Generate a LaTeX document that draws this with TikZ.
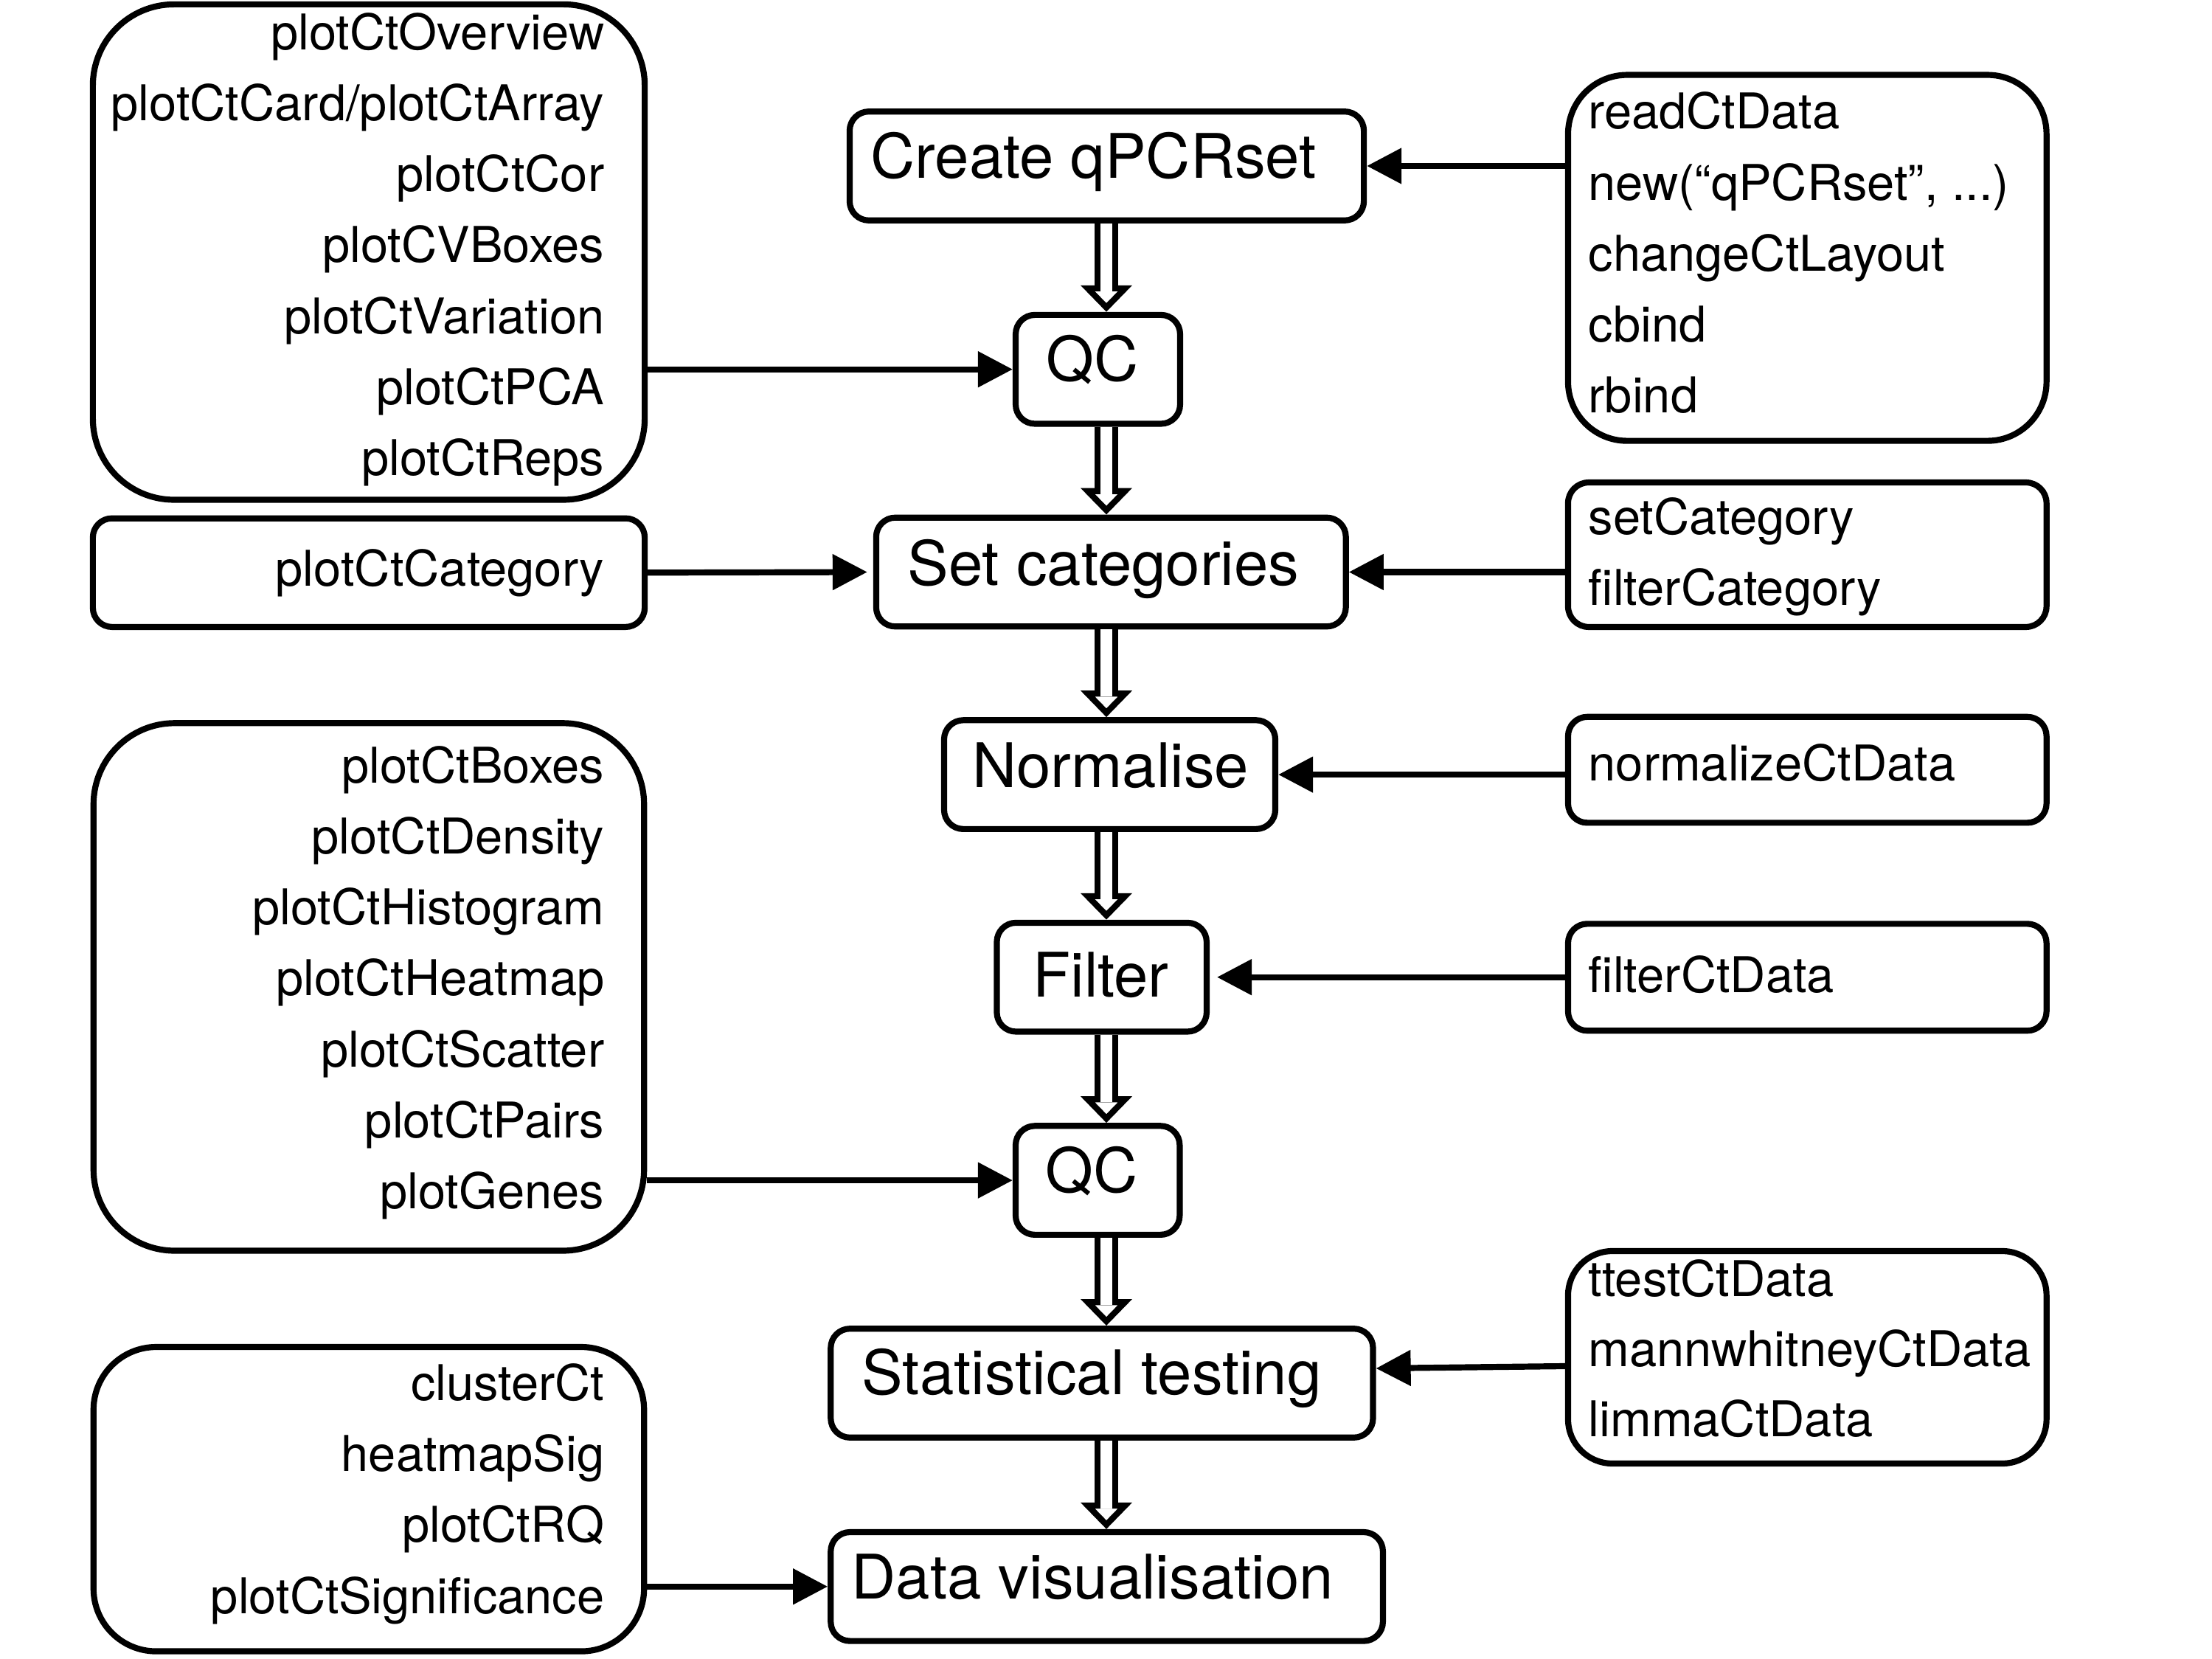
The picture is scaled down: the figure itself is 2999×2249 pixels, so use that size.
\documentclass[tikz,border=0pt]{standalone}
\usepackage{fontspec}
\setmainfont{TeX Gyre Heros}
\usetikzlibrary{arrows.meta, positioning, calc}
\newcommand{\qdots}{...}

\begin{document}
\begin{tikzpicture}[x=0.01cm, y=-0.01cm, line join=round]

	%======================
	% STYLES
	%======================
	\tikzset{
		stepbox/.style={draw, line width=2.33pt, rounded corners=0.26cm, minimum height=1.475cm, inner sep=0pt},
		listbox/.style={draw, line width=2.33pt, rounded corners=0.26cm, inner sep=0pt},
		steptext/.style={inner sep=0pt, anchor=base west, font=\fontsize{23.7}{28}\selectfont},
		listtext/.style={inner sep=0pt, font=\fontsize{19}{23}\selectfont},
		feed/.style={line width=2.33pt, -{Triangle[length=0.47cm, width=0.47cm]}},
		flow/.style={double, line width=2.33pt, double distance=0.162cm, shorten >=0.278cm},
		flowhead/.style={line width=2.33pt, -{Triangle[fill=white, length=0.36cm, width=0.68cm]}}
	}
	
	\useasboundingbox (0,0) rectangle (2999,2249);
	\coordinate (axis) at (1500,0);
	
	%======================
	% WORKFLOW STEPS
	%======================
	\node[stepbox, minimum width=6.968cm] (create) at (1500.5,225) {};
	\node[steptext] (createtxt) at (1180,242) {Create qPCRset};
	
	\node[stepbox, minimum width=2.228cm] (qcA) at (1488.5,500.7) {};
	\node[steptext] (qcAtxt) at (1418,517) {QC};
	
	\node[stepbox, minimum width=6.364cm] (setcat) at (1506.3,775.5) {};
	\node[steptext] (setcattxt) at (1230,793.7) {Set categories};
	
	\node[stepbox, minimum width=4.488cm] (norm) at (1504.5,1050.1) {};
	\node[steptext] (normtxt) at (1317.5,1067.4) {Normalise};
	
	\node[stepbox, minimum width=2.843cm] (filt) at (1493.7,1324.7) {};
	\node[steptext] (filttxt) at (1400,1351) {Filter};
	
	\node[stepbox, minimum width=2.223cm] (qcB) at (1488.2,1600.1) {};
	\node[steptext] (qcBtxt) at (1417,1616) {QC};
	
	\node[stepbox, minimum width=7.348cm] (stat) at (1493.9,1875) {};
	\node[steptext] (stattxt) at (1168,1890) {Statistical testing};
	
	\node[stepbox, minimum width=7.482cm] (datavis) at (1500.6,2150.8) {};
	\node[steptext] (datavistxt) at (1154,2167.4) {Data visualisation};
	
	%======================
	% PLOT FUNCTIONS (left)
	%======================
	\node[listbox, rounded corners=1.1cm, minimum width=7.478cm, minimum height=6.712cm] (plotsA) at (500,341.7) {};
	\foreach \t [count=\i from 0] in {plotCtOverview, {plotCtCard/plotCtArray}, plotCtCor, plotCVBoxes, plotCtVariation, plotCtPCA, plotCtReps}
		\node[listtext, anchor=base east] (plotsA\i) at (820,{67.7+96.1*\i}) {\t};
	
	\node[listbox, minimum width=7.478cm, minimum height=1.472cm] (plotsCat) at (500,776.3) {};
	\node[listtext, anchor=base east] (plotsCat0) at (820,795) {plotCtCategory};
	
	\node[listbox, rounded corners=1.1cm, minimum width=7.46cm, minimum height=7.148cm] (plotsB) at (500,1337.9) {};
	\foreach \t [count=\i from 0] in {plotCtBoxes, plotCtDensity, plotCtHistogram, plotCtHeatmap, plotCtScatter, plotCtPairs, plotGenes}
		\node[listtext, anchor=base east] (plotsB\i) at (820,{1061+96.3*\i}) {\t};
	
	\node[listbox, rounded corners=0.85cm, minimum width=7.46cm, minimum height=4.123cm] (plotsC) at (500,2032.3) {};
	\foreach \t [count=\i from 0] in {clusterCt, heatmapSig, plotCtRQ, plotCtSignificance}
		\node[listtext, anchor=base east] (plotsC\i) at (820,{1898.4+96.2*\i}) {\t};
	
	%======================
	% DATA FUNCTIONS (right)
	%======================
	\node[listbox, rounded corners=0.8cm, minimum width=6.483cm, minimum height=4.958cm] (readers) at (2450.3,349.6) {};
	\foreach \t [count=\i from 0] in {readCtData, {new(“qPCRset”, \qdots)}, changeCtLayout, cbind, rbind}
		\node[listtext, anchor=base west] (readers\i) at (2153,{175+96.25*\i}) {\t};
	
	\node[listbox, rounded corners=0.28cm, minimum width=6.483cm, minimum height=1.958cm] (cats) at (2450.3,752) {};
	\foreach \t [count=\i from 0] in {setCategory, filterCategory}
		\node[listtext, anchor=base west] (cats\i) at (2153,{725+96*\i}) {\t};
	
	\node[listbox, minimum width=6.483cm, minimum height=1.435cm] (norms) at (2450.3,1043.6) {};
	\node[listtext, anchor=base west] (norms0) at (2153,1058.9) {normalizeCtData};
	
	\node[listbox, minimum width=6.483cm, minimum height=1.448cm] (filts) at (2450.3,1324.8) {};
	\node[listtext, anchor=base west] (filts0) at (2153,1345.8) {filterCtData};
	
	\node[listbox, rounded corners=0.6cm, minimum width=6.483cm, minimum height=2.878cm] (tests) at (2450.3,1840) {};
	\foreach \t [count=\i from 0] in {ttestCtData, mannwhitneyCtData, limmaCtData}
		\node[listtext, anchor=base west] (tests\i) at (2153,{1757+95*\i}) {\t};
	
	%======================
	% MAIN FLOW (double arrows)
	%======================
	\foreach \a/\b in {create/qcA, qcA/setcat, setcat/norm, norm/filt, filt/qcB, qcB/stat, stat/datavis} {
		\draw[flowhead] ($(\b.north -| axis)+(0,-36)$) -- (\b.north -| axis);
		\draw[flow] (\a.south -| axis) -- (\b.north -| axis);
	}
	
	%======================
	% SIDE INPUTS
	%======================
	\draw[feed] (readers.west |- create) -- (create.east);
	\draw[feed] (plotsA.east |- qcA) -- (qcA.west);
	\draw[feed, shorten >=0.08cm] (plotsCat.east) -- (setcat.west);
	\draw[feed] (cats.west |- setcat) -- (setcat.east);
	\draw[feed] (norms.west |- norm) -- (norm.east);
	\draw[feed, shorten >=0.1cm] (filts.west |- filt) -- (filt.east);
	\draw[feed] (plotsB.east |- qcB) -- (qcB.west);
	\draw[feed] (tests.west |- 0,1852) -- (stat.east |- 0,1855);
	\draw[feed] (plotsC.east |- datavis) -- (datavis.west);
	
\end{tikzpicture}
\end{document}
